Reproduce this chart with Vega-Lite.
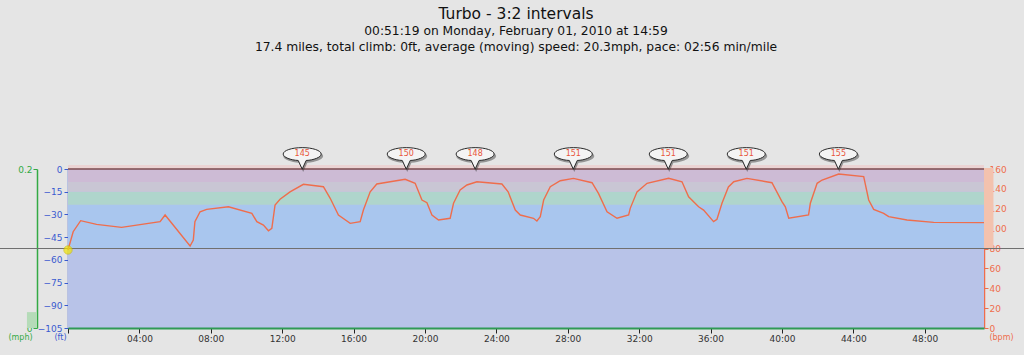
{
  "$schema": "https://vega.github.io/schema/vega-lite/v6.json",
  "width": 916,
  "height": 159,
  "autosize": {"type": "none"},
  "padding": {"left": 68, "top": 169, "right": 40, "bottom": 27},
  "background": "#e5e5e5",
  "config": {"view": {"stroke": null}, "font": "DejaVu Sans"},
  "title": {
    "text": "Turbo - 3:2 intervals",
    "subtitle": ["00:51:19 on Monday, February 01, 2010 at 14:59", "17.4 miles, total climb: 0ft, average (moving) speed: 20.3mph, pace: 02:56 min/mile"],
    "font": "DejaVu Sans", "fontSize": 15.5, "fontWeight": "normal", "color": "#111",
    "subtitleFont": "DejaVu Sans", "subtitleFontSize": 12.3, "subtitleColor": "#111",
    "subtitleLineHeight": 16, "subtitlePadding": 3,
    "anchor": "middle", "frame": "group", "offset": 92, "dx": -10
  },
  "datasets": {
    "hr": [
      {"t": 0, "bpm": 78.5}, {"t": 0.29, "bpm": 96.9}, {"t": 0.71, "bpm": 108}, {"t": 1.6, "bpm": 104.3},
      {"t": 3.0, "bpm": 101.3}, {"t": 5.16, "bpm": 107}, {"t": 5.44, "bpm": 113.7}, {"t": 6.84, "bpm": 82.5},
      {"t": 7.02, "bpm": 88.5}, {"t": 7.11, "bpm": 107}, {"t": 7.4, "bpm": 117}, {"t": 7.77, "bpm": 119.4},
      {"t": 8.99, "bpm": 122}, {"t": 10.3, "bpm": 115.4}, {"t": 10.58, "bpm": 107}, {"t": 10.95, "bpm": 103.6},
      {"t": 11.23, "bpm": 97.9}, {"t": 11.42, "bpm": 100.3}, {"t": 11.6, "bpm": 123.8}, {"t": 11.88, "bpm": 129.5},
      {"t": 12.44, "bpm": 137}, {"t": 13.19, "bpm": 144.6}, {"t": 14.31, "bpm": 142.2}, {"t": 14.69, "bpm": 130.5},
      {"t": 15.15, "bpm": 113.7}, {"t": 15.81, "bpm": 105.3}, {"t": 16.37, "bpm": 107}, {"t": 16.55, "bpm": 118.7},
      {"t": 16.93, "bpm": 137}, {"t": 17.3, "bpm": 144.9}, {"t": 18.05, "bpm": 147.2}, {"t": 18.89, "bpm": 149.6},
      {"t": 19.45, "bpm": 145.6}, {"t": 19.83, "bpm": 128.8}, {"t": 20.11, "bpm": 126.1}, {"t": 20.39, "bpm": 113.7},
      {"t": 20.76, "bpm": 108.7}, {"t": 21.41, "bpm": 110.4}, {"t": 21.6, "bpm": 125.5}, {"t": 21.97, "bpm": 138.9},
      {"t": 22.35, "bpm": 143.9}, {"t": 22.91, "bpm": 147.2}, {"t": 24.31, "bpm": 144.9}, {"t": 24.66, "bpm": 137},
      {"t": 25.06, "bpm": 118.7}, {"t": 25.34, "bpm": 113.7}, {"t": 26.08, "bpm": 110.4}, {"t": 26.27, "bpm": 107.7},
      {"t": 26.46, "bpm": 112}, {"t": 26.65, "bpm": 128.8}, {"t": 27.02, "bpm": 142.2}, {"t": 27.58, "bpm": 148.2},
      {"t": 28.32, "bpm": 150.6}, {"t": 29.36, "bpm": 146.2}, {"t": 29.72, "bpm": 135.5}, {"t": 30.2, "bpm": 117},
      {"t": 30.76, "bpm": 110.4}, {"t": 31.41, "bpm": 113.7}, {"t": 31.5, "bpm": 120.4}, {"t": 31.88, "bpm": 137},
      {"t": 32.44, "bpm": 145.6}, {"t": 33.65, "bpm": 150.6}, {"t": 34.4, "bpm": 147.2}, {"t": 34.77, "bpm": 132.1},
      {"t": 35.33, "bpm": 122}, {"t": 35.61, "bpm": 118.7}, {"t": 36.17, "bpm": 107}, {"t": 36.36, "bpm": 109.4},
      {"t": 36.64, "bpm": 125.5}, {"t": 37.0, "bpm": 142}, {"t": 37.3, "bpm": 147.2}, {"t": 38.04, "bpm": 150.6},
      {"t": 39.44, "bpm": 146.2}, {"t": 40.0, "bpm": 127.1}, {"t": 40.19, "bpm": 122}, {"t": 40.38, "bpm": 110.4},
      {"t": 41.49, "bpm": 113.7}, {"t": 41.59, "bpm": 125.5}, {"t": 41.97, "bpm": 145.6}, {"t": 42.25, "bpm": 148.9},
      {"t": 43.18, "bpm": 155}, {"t": 44.58, "bpm": 152.3}, {"t": 44.86, "bpm": 128.8}, {"t": 45.14, "bpm": 119.4},
      {"t": 45.7, "bpm": 115.4}, {"t": 45.98, "bpm": 112}, {"t": 47.01, "bpm": 108.7}, {"t": 48.5, "bpm": 106.3},
      {"t": 51.32, "bpm": 106}
    ],
    "peaks": [
      {"t": 13.12, "bpm": 175, "label": "145"}, {"t": 18.95, "bpm": 175, "label": "150"},
      {"t": 22.81, "bpm": 175, "label": "148"}, {"t": 28.31, "bpm": 175, "label": "151"},
      {"t": 33.63, "bpm": 175, "label": "151"}, {"t": 38.0, "bpm": 175, "label": "151"},
      {"t": 43.16, "bpm": 175, "label": "155"}
    ],
    "zones": [
      {"t": 0, "t2": 51.32, "lo": 80, "hi": 124, "zone": "z1"},
      {"t": 0, "t2": 51.32, "lo": 124, "hi": 137, "zone": "z2"},
      {"t": 0, "t2": 51.32, "lo": 137, "hi": 147, "zone": "z3"},
      {"t": 0, "t2": 51.32, "lo": 147, "hi": 160, "zone": "z4"},
      {"t": 0, "t2": 51.32, "lo": 160, "hi": 164, "zone": "z5"}
    ]
  },
  "resolve": {"scale": {"y": "independent"}, "axis": {"y": "independent"}},
  "layer": [
    {
      "data": {"values": [{"t": 0, "t2": 51.32, "elev": 0, "base": -105}]},
      "mark": {"type": "rect", "color": "#b8c3e8"},
      "encoding": {
        "x": {"field": "t", "type": "quantitative", "title": null,
          "scale": {"domain": [0, 51.32], "nice": false, "zero": false},
          "axis": {"orient": "bottom", "values": [0,2,4,6,8,10,12,14,16,18,20,22,24,26,28,30,32,34,36,38,40,42,44,46,48,50],
            "labelExpr": "(datum.value > 0 && datum.value % 4 == 0) ? (format(datum.value, '02d') + ':00') : ''",
            "labelFlush": false, "zindex": 1, "ticks": true, "tickWidth": 1, "tickOpacity": 1,
            "grid": false, "domainColor": "#2f9a55", "domainWidth": 2, "tickColor": "#222", "tickSize": 5,
            "labelColor": "#333", "labelFontSize": 9, "labelPadding": 1, "labelFont": "DejaVu Sans"}},
        "x2": {"field": "t2"},
        "y": {"field": "elev", "type": "quantitative",
          "scale": {"domain": [-105, 0], "nice": false, "zero": false},
          "axis": {"orient": "left", "values": [-105,-90,-75,-60,-45,-30,-15,0], "grid": false,
            "domainColor": "#3a5bd0", "domainWidth": 1.5, "tickColor": "#3a5bd0", "tickSize": 4,
            "labelColor": "#3a5bd0", "labelFontSize": 9, "labelPadding": 2, "labelFont": "DejaVu Sans",
            "title": "(ft)", "titleAngle": 0, "titleX": -8, "titleY": 170, "titleAlign": "center",
            "titleBaseline": "alphabetic", "titleColor": "#3a5bd0", "titleFontSize": 8, "titleFontWeight": "normal"}},
        "y2": {"field": "base"}
      }
    },
    {
      "data": {"name": "zones"},
      "mark": {"type": "rect"},
      "encoding": {
        "x": {"field": "t", "type": "quantitative", "title": null, "scale": {"domain": [0, 51.32], "nice": false, "zero": false}},
        "x2": {"field": "t2"},
        "y": {"field": "lo", "type": "quantitative", "scale": {"domain": [0, 160], "nice": false}, "axis": null},
        "y2": {"field": "hi"},
        "color": {"field": "zone", "type": "nominal", "legend": null,
          "scale": {"domain": ["z1","z2","z3","z4","z5"], "range": ["#a9c6ee", "#afd5cc", "#c9c6d4", "#cdbbd5", "#ebd3d3"]}}
      }
    },
    {
      "data": {"values": [{"t": 51.32, "t2": 51.85, "lo": 80, "hi": 161}]},
      "mark": {"type": "rect", "color": "#f3c2ae"},
      "encoding": {
        "x": {"field": "t", "type": "quantitative", "title": null, "scale": {"domain": [0, 51.32], "nice": false, "zero": false}},
        "x2": {"field": "t2"},
        "y": {"field": "lo", "type": "quantitative", "scale": {"domain": [0, 160], "nice": false}, "axis": null},
        "y2": {"field": "hi"}
      }
    },
    {
      "data": {"values": [{"t": -2.3, "t2": -1.74, "lo": 0, "hi": 0.02}]},
      "mark": {"type": "rect", "color": "#b5dbb8"},
      "encoding": {
        "x": {"field": "t", "type": "quantitative", "title": null, "scale": {"domain": [0, 51.32], "nice": false, "zero": false}},
        "x2": {"field": "t2"},
        "y": {"field": "lo", "type": "quantitative", "scale": {"domain": [0, 0.2], "nice": false},
          "axis": {"orient": "left", "offset": 31, "values": [0, 0.2], "format": ".1~f", "grid": false,
            "domainColor": "#33aa44", "domainWidth": 1.5, "tickColor": "#33aa44", "tickSize": 4,
            "labelColor": "#33aa44", "labelFontSize": 9, "labelPadding": 1, "labelFont": "DejaVu Sans",
            "title": "(mph)", "titleAngle": 0, "titleX": -17, "titleY": 170, "titleAlign": "center",
            "titleBaseline": "alphabetic", "titleColor": "#33aa44", "titleFontSize": 8, "titleFontWeight": "normal"}},
        "y2": {"field": "hi"}
      }
    },
    {
      "data": {"values": [{"bpm": 160}]},
      "mark": {"type": "rule", "color": "#7a4a4e", "strokeWidth": 1.5},
      "encoding": {
        "y": {"field": "bpm", "type": "quantitative", "scale": {"domain": [0, 160], "nice": false}, "axis": null}
      }
    },
    {
      "data": {"values": [{"t": -3.82, "t2": 53.6, "bpm": 80}]},
      "mark": {"type": "rule", "color": "#707070", "strokeWidth": 1},
      "encoding": {
        "x": {"field": "t", "type": "quantitative", "title": null, "scale": {"domain": [0, 51.32], "nice": false, "zero": false}},
        "x2": {"field": "t2"},
        "y": {"field": "bpm", "type": "quantitative", "scale": {"domain": [0, 160], "nice": false}, "axis": null}
      }
    },
    {
      "data": {"name": "hr"},
      "mark": {"type": "line", "color": "#ef6d4c", "strokeWidth": 1.4},
      "encoding": {
        "x": {"field": "t", "type": "quantitative", "title": null, "scale": {"domain": [0, 51.32], "nice": false, "zero": false}},
        "y": {"field": "bpm", "type": "quantitative", "scale": {"domain": [0, 160], "nice": false},
          "axis": {"orient": "right", "values": [0,20,40,60,80,100,120,140,160], "grid": false,
            "domainColor": "#ef6d4c", "domainWidth": 1.5, "tickColor": "#ef6d4c", "tickSize": 4,
            "labelColor": "#ef6d4c", "labelFontSize": 9, "labelPadding": 1, "labelFont": "DejaVu Sans",
            "title": "(bpm)", "titleAngle": 0, "titleX": 17, "titleY": 170, "titleAlign": "center",
            "titleBaseline": "alphabetic", "titleColor": "#ef6d4c", "titleFontSize": 8, "titleFontWeight": "normal"}}
      }
    },
    {
      "data": {"values": [{"t": 0, "bpm": 78.5}]},
      "mark": {"type": "point", "filled": true, "color": "#f2e600", "size": 70, "stroke": "#c9b800", "strokeWidth": 0.8},
      "encoding": {
        "x": {"field": "t", "type": "quantitative", "title": null, "scale": {"domain": [0, 51.32], "nice": false, "zero": false}},
        "y": {"field": "bpm", "type": "quantitative", "scale": {"domain": [0, 160], "nice": false}, "axis": null}
      }
    },
    {
      "data": {"name": "peaks"},
      "mark": {"type": "point", "filled": true, "color": "#333", "opacity": 0.45, "size": 1600, "xOffset": 1, "yOffset": 2,
        "shape": "M -1 0 C -1 -0.19 -0.55 -0.34 0 -0.34 C 0.55 -0.34 1 -0.19 1 0 C 1 0.17 0.6 0.32 0.21 0.335 L 0 0.79 L -0.21 0.335 C -0.6 0.32 -1 0.17 -1 0 Z"},
      "encoding": {
        "x": {"field": "t", "type": "quantitative", "title": null, "scale": {"domain": [0, 51.32], "nice": false, "zero": false}},
        "y": {"field": "bpm", "type": "quantitative", "scale": {"domain": [0, 160], "nice": false}, "axis": null}
      }
    },
    {
      "data": {"name": "peaks"},
      "mark": {"type": "point", "filled": false, "fill": "#f4f4f4", "fillOpacity": 1, "stroke": "#2a2a2a", "strokeWidth": 1, "size": 1444,
        "shape": "M -1 0 C -1 -0.19 -0.55 -0.34 0 -0.34 C 0.55 -0.34 1 -0.19 1 0 C 1 0.17 0.6 0.32 0.21 0.335 L 0 0.79 L -0.21 0.335 C -0.6 0.32 -1 0.17 -1 0 Z"},
      "encoding": {
        "x": {"field": "t", "type": "quantitative", "title": null, "scale": {"domain": [0, 51.32], "nice": false, "zero": false}},
        "y": {"field": "bpm", "type": "quantitative", "scale": {"domain": [0, 160], "nice": false}, "axis": null}
      }
    },
    {
      "data": {"name": "peaks"},
      "mark": {"type": "text", "color": "#e8553a", "fontSize": 8, "font": "DejaVu Sans", "baseline": "middle", "align": "center"},
      "encoding": {
        "x": {"field": "t", "type": "quantitative", "title": null, "scale": {"domain": [0, 51.32], "nice": false, "zero": false}},
        "y": {"field": "bpm", "type": "quantitative", "scale": {"domain": [0, 160], "nice": false}, "axis": null},
        "text": {"field": "label"}
      }
    }
  ]
}
